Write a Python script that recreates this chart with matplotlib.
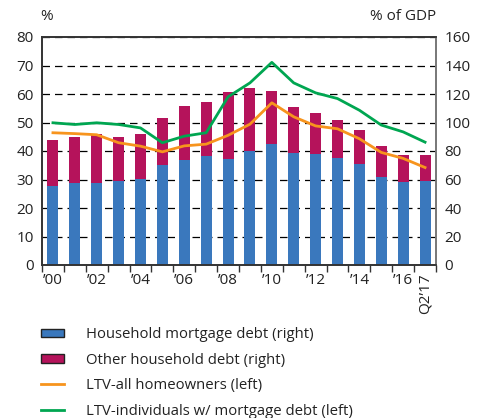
import matplotlib.pyplot as plt
from matplotlib.patches import Patch
import numpy as np

plt.rcParams['font.family'] = ['Open Sans', 'DejaVu Sans']

# Household debt chart, 2000 - Q2 2017
years = ["’00", "", "’02", "", "’04", "", "’06", "", "’08", "", "’10", "", "’12", "", "’14", "", "’16", "Q2’17"]

# % of GDP (right axis)
mortgage_debt = [55.5, 57.6, 57.6, 59.0, 60.2, 70.0, 73.5, 76.5, 74.2, 79.8, 85.0, 78.4, 78.0, 75.0, 70.9, 61.6, 58.3, 59.0]
total_debt = [88.0, 90.0, 91.6, 90.0, 91.8, 103.0, 111.4, 114.2, 121.2, 124.0, 122.0, 110.7, 107.0, 101.6, 94.6, 83.6, 77.0, 77.0]
other_debt = [t - m for t, m in zip(total_debt, mortgage_debt)]

# % (left axis)
ltv_all = [46.4, 46.1, 45.7, 42.9, 41.7, 39.7, 41.8, 42.4, 45.5, 49.4, 56.9, 52.0, 48.8, 47.8, 44.3, 39.5, 37.4, 34.2]
ltv_mortgage = [49.9, 49.3, 49.9, 49.3, 48.1, 42.9, 45.2, 46.4, 59.0, 63.9, 71.1, 63.9, 60.4, 58.4, 54.3, 49.1, 46.7, 43.1]

blue = '#3a78bd'
magenta = '#b5135b'
orange = '#f7941d'
green = '#00a651'
text_col = '#222222'

fig = plt.figure(figsize=(4.85, 4.18), dpi=100)
ax = fig.add_axes([42 / 485, 1 - 265 / 418, 394 / 485, 228 / 418])
x = np.arange(len(years))

# bars on right axis
ax.bar(x, mortgage_debt, width=0.5, color=blue, linewidth=0)
ax.bar(x, other_debt, width=0.5, bottom=mortgage_debt, color=magenta, linewidth=0)
ax.set_ylim(0, 160)
ax.set_yticks(range(0, 161, 20))
ax.set_axisbelow(True)
ax.grid(axis='y', color='black', linestyle=(0, (6, 4)), linewidth=0.9)

# lines on left axis
ax2 = ax.twinx()
l1, = ax2.plot(x, ltv_all, color=orange, linewidth=2)
l2, = ax2.plot(x, ltv_mortgage, color=green, linewidth=2)
ax2.set_ylim(0, 80)
ax2.set_yticks(range(0, 81, 10))
ax.yaxis.tick_right()
ax2.yaxis.tick_left()

ax.set_xlim(-0.5, len(years) - 0.5)
ax.set_xticks(np.arange(-0.5, len(years)), minor=False)
ax.set_xticklabels([])
ax.set_xticks(x, minor=True)
ax.set_xticklabels(years, minor=True)
ax.tick_params(axis='x', which='major', direction='out', length=5, width=1, color='#333333')
ax.tick_params(axis='x', which='minor', length=0, pad=6, labelsize=11, labelcolor=text_col)
ax.get_xticklabels(minor=True)[-1].set_rotation(90)
ax.get_xticklabels(minor=True)[-1].set_va('top')

ax.tick_params(axis='y', length=0, pad=6, labelsize=11, labelcolor=text_col)
ax2.tick_params(axis='y', length=0, pad=6, labelsize=11, labelcolor=text_col)

for a in (ax, ax2):
    for s in a.spines.values():
        s.set_color('#333333')
        s.set_linewidth(1.2)
    a.spines['right'].set_color('#777777')

fig.text(47 / 485, 1 - 16 / 418, '%', fontsize=11, color=text_col, ha='center', va='center')
fig.text(436 / 485, 1 - 16 / 418, '% of GDP', fontsize=11, color=text_col, ha='right', va='center')

handles = [Patch(facecolor=blue, edgecolor='#222222', linewidth=1),
           Patch(facecolor=magenta, edgecolor='#222222', linewidth=1), l1, l2]
labels = ['Household mortgage debt (right)', 'Other household debt (right)',
          'LTV-all homeowners (left)', 'LTV-individuals w/ mortgage debt (left)']
leg = fig.legend(handles, labels, loc='upper left', bbox_to_anchor=(28 / 485, 1 - 314 / 418),
                 frameon=False, fontsize=10.7, handlelength=1.5, handleheight=0.5,
                 handletextpad=1.5, labelspacing=0.7)
for t in leg.get_texts():
    t.set_color(text_col)

fig.savefig('out.png', dpi=100)
